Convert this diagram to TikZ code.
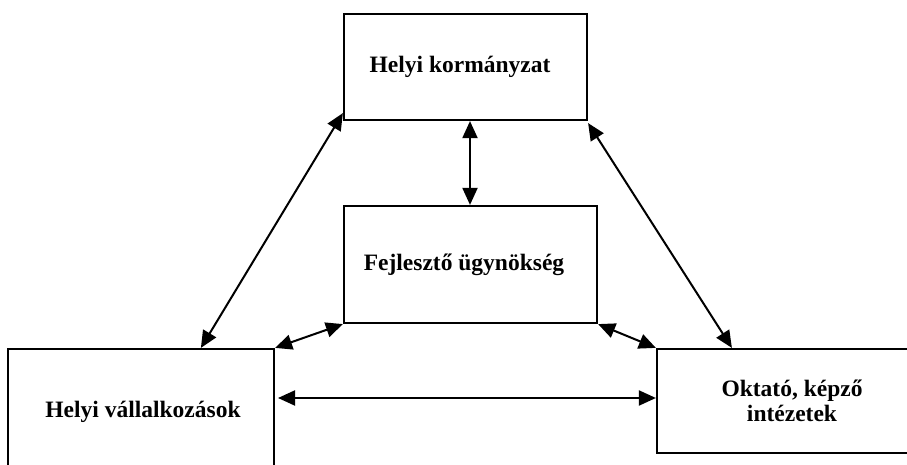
\documentclass[tikz,border=0pt]{standalone}
\usepackage{fontspec}
\setmainfont{Liberation Serif}
\usetikzlibrary{arrows.meta}
\begin{document}
\begin{tikzpicture}[x=1pt,y=1pt,
  lbl/.style={font=\bfseries\fontsize{23.5}{25}\selectfont,align=center,inner sep=0pt},
  box/.style={draw=black,line width=2.2pt,fill=white,inner sep=0pt,lbl},
  link/.style={line width=2pt,{Triangle[length=17pt,width=15pt]}-{Triangle[length=17pt,width=15pt]}}]
\useasboundingbox (0,0) rectangle (907,465);
\clip (0,0) rectangle (907,465);
\fill[white] (0,0) rectangle (907,465);
\node[box,minimum width=243pt,minimum height=106pt] (top) at (465.5,398) {};
\node[lbl] (toptext) at (460,398) {Helyi kormányzat};
\node[box,minimum width=253pt,minimum height=117pt] (mid) at (470.5,200.5) {};
\node[lbl] (midtext) at (464,200) {Fejlesztő ügynökség};
\node[box,minimum width=266pt,minimum height=126pt] (left) at (141,53) {};
\node[lbl] (lefttext) at (143,53) {Helyi vállalkozások};
\node[box,minimum width=270pt,minimum height=104pt] (right) at (792,64) {Oktató, képző\\intézetek};
\coordinate (h1) at (278,67);
\draw[link] (top.south) ++(4.5,0) coordinate (tv) -- (tv |- mid.north);
\draw[link] ([yshift=8pt]top.south west) -- ([xshift=194pt]left.north west);
\draw[link] (mid.south west) -- (left.north east);
\draw[link] ([yshift=-2pt]top.south east) -- ([xshift=76pt]right.north west);
\draw[link] (mid.south east) -- (right.north west);
\draw[link] (h1) -- (h1 -| right.west);
\end{tikzpicture}
\end{document}
